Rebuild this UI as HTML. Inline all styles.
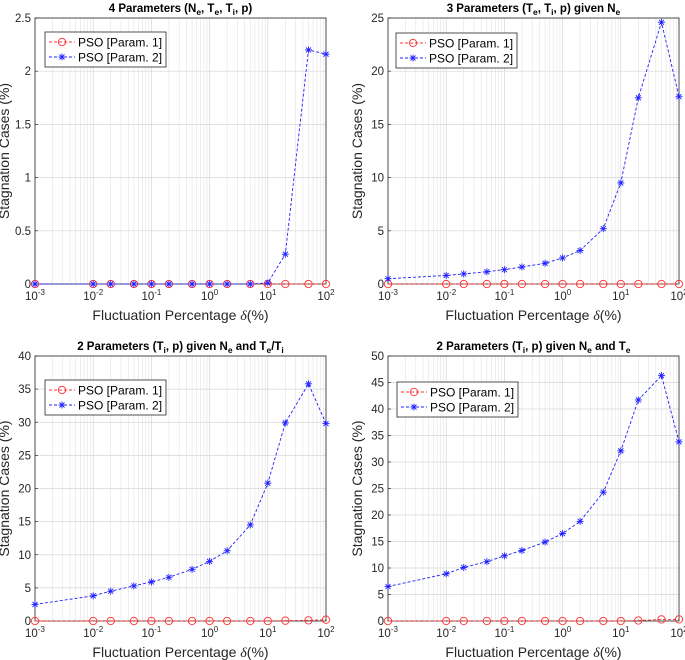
<!DOCTYPE html>
<html><head><meta charset="utf-8">
<style>
body{margin:0;background:#fff;}
svg{display:block;font-family:"Liberation Sans",sans-serif;}
</style></head>
<body>
<svg id="fig" width="685" height="660" viewBox="0 0 685 660" xmlns="http://www.w3.org/2000/svg"></svg>
<script>
const xValues = [0.001,0.01,0.02,0.05,0.1,0.2,0.5,1,2,5,10,20,50,100];
const xTickLabels = ["-3","-2","-1","0","1","2"];
const p1_a = [0,0,0,0,0,0,0,0,0,0,0,0,0,0];
const p2_a = [0,0,0,0,0,0,0,0,0,0,0.01,0.28,2.2,2.16];
const p1_b = [0,0,0,0,0,0,0,0,0,0,0,0,0,0];
const p2_b = [0.5,0.8,0.95,1.15,1.35,1.6,1.95,2.45,3.15,5.2,9.5,17.5,24.6,17.6];
const p1_c = [0,0,0,0,0,0,0,0,0,0,0,0.05,0.1,0.2];
const p2_c = [2.5,3.8,4.5,5.3,5.9,6.6,7.8,9.0,10.6,14.5,20.8,29.9,35.8,29.8];
const p1_d = [0,0,0,0,0,0,0,0,0,0,0,0.1,0.3,0.3];
const p2_d = [6.5,8.9,10.1,11.2,12.3,13.3,14.9,16.5,18.8,24.3,32.1,41.7,46.3,33.8];
const yTicks_a = ["0","0.5","1","1.5","2","2.5"];
const yTicks_b = ["0","5","10","15","20","25"];
const yTicks_c = ["0","5","10","15","20","25","30","35","40"];
const yTicks_d = ["0","5","10","15","20","25","30","35","40","45","50"];

const NS="http://www.w3.org/2000/svg";
const svg=document.getElementById('fig');
function mk(tag,attrs,parent,txt){const e=document.createElementNS(NS,tag);for(const k in attrs)e.setAttribute(k,attrs[k]);if(txt!==undefined)e.textContent=txt;(parent||svg).appendChild(e);return e;}

const panels=[
 {id:'a',L:35,R:326,T:18,B:284,ymax:2.5,yt:yTicks_a,p1:p1_a,p2:p2_a,title:[["4 Parameters (N"],["e","sub"],[", T"],["e","sub"],[", T"],["i","sub"],[", p)"]],leg:[45,32]},
 {id:'b',L:388,R:679,T:18,B:284,ymax:25,yt:yTicks_b,p1:p1_b,p2:p2_b,title:[["3 Parameters (T"],["e","sub"],[", T"],["i","sub"],[", p) given N"],["e","sub"]],leg:[396,33]},
 {id:'c',L:35,R:326,T:356,B:621,ymax:40,yt:yTicks_c,p1:p1_c,p2:p2_c,title:[["2 Parameters (T"],["i","sub"],[", p) given N"],["e","sub"],[" and T"],["e","sub"],["/T"],["i","sub"]],leg:[45,380]},
 {id:'d',L:388,R:679,T:356,B:621,ymax:50,yt:yTicks_d,p1:p1_d,p2:p2_d,title:[["2 Parameters (T"],["i","sub"],[", p) given N"],["e","sub"],[" and T"],["e","sub"]],leg:[397,382]}
];

panels.forEach(p=>{
 const g=mk('g',{});
 
 
 const xs=v=>p.L+(Math.log10(v)+3)/5*(p.R-p.L);
 const ys=v=>p.B-v/p.ymax*(p.B-p.T);
 mk('rect',{x:p.L,y:p.T,width:p.R-p.L,height:p.B-p.T,fill:'#fff'},g);
 for(let d=-3;d<2;d++)for(let m=2;m<=9;m++){const x=xs(m*Math.pow(10,d));mk('line',{x1:x,x2:x,y1:p.T,y2:p.B,stroke:'#e3e3e3','stroke-width':0.6},g);}
 for(let d=-3;d<=2;d++){const x=xs(Math.pow(10,d));mk('line',{x1:x,x2:x,y1:p.T,y2:p.B,stroke:'#d6d6d6','stroke-width':0.7},g);}
 const n=p.yt.length-1;
 p.yt.forEach((t,i)=>{const y=p.B-i/n*(p.B-p.T);mk('line',{x1:p.L,x2:p.R,y1:y,y2:y,stroke:'#d6d6d6','stroke-width':0.7},g);
   const tl=mk('text',{x:p.L-4,y:y+4,'font-size':11.5,fill:'#262626','text-anchor':'end'},g,t);
   
   
   mk('line',{x1:p.L,x2:p.L+3,y1:y,y2:y,stroke:'#262626','stroke-width':0.7},g);});
 xTickLabels.forEach((t,i)=>{const x=xs(Math.pow(10,+t));
   const tl=mk('text',{x:x,y:p.B+16,'font-size':11.5,fill:'#262626','text-anchor':'middle'},g);
   
   
   mk('tspan',{},tl,'10');mk('tspan',{dy:-5,'font-size':8},tl,t);});
 mk('rect',{x:p.L,y:p.T,width:p.R-p.L,height:p.B-p.T,fill:'none',stroke:'#262626','stroke-width':0.8},g);
 const tt=mk('text',{x:(p.L+p.R)/2,y:p.T-6,'font-size':11.5,'font-weight':'bold',fill:'#000','text-anchor':'middle'},g);
 
 
 let sub=false;
 p.title.forEach(([s,k])=>{if(k){mk('tspan',{dy:3,'font-size':8.5},tt,s);sub=true;}else{mk('tspan',sub?{dy:-3}:{},tt,s);sub=false;}});
 const yl=mk('text',{x:0,y:0,'font-size':14,fill:'#262626','text-anchor':'middle',transform:`translate(${p.L-26},${(p.T+p.B)/2}) rotate(-90)`},g,'Stagnation Cases (%)');
 
 
 const xl=mk('text',{x:(p.L+p.R)/2,y:p.B+36,'font-size':14,fill:'#262626','text-anchor':'middle'},g);
 
 
 mk('tspan',{},xl,'Fluctuation Percentage ');mk('tspan',{'font-style':'italic','font-family':'Liberation Serif, serif'},xl,'δ');mk('tspan',{},xl,'(%)');
 const star=(x,y,c)=>{const s=mk('g',{stroke:c,'stroke-width':0.9},g);
   
   
   [[-3.5,0,3.5,0],[0,-3.5,0,3.5],[-2.5,-2.5,2.5,2.5],[-2.5,2.5,2.5,-2.5]].forEach(a=>mk('line',{x1:x+a[0],y1:y+a[1],x2:x+a[2],y2:y+a[3]},s));};
 const circ=(x,y)=>{const c=mk('circle',{cx:x,cy:y,r:3.7,fill:'none',stroke:'#ff3030','stroke-width':0.9},g);
   
   };
 const l1=mk('polyline',{points:xValues.map((v,i)=>xs(v)+','+ys(p.p1[i])).join(' '),fill:'none',stroke:'#ff3030','stroke-width':0.9,'stroke-dasharray':'3,2'},g);
 
 
 xValues.forEach((v,i)=>circ(xs(v),ys(p.p1[i])));
 const l2=mk('polyline',{points:xValues.map((v,i)=>xs(v)+','+ys(p.p2[i])).join(' '),fill:'none',stroke:'#2020ff','stroke-width':0.9,'stroke-dasharray':'3,2'},g);
 
 
 xValues.forEach((v,i)=>star(xs(v),ys(p.p2[i]),'#2020ff'));
 const [lx,ly]=p.leg;
 const lg=mk('g',{},g);
 
 
 mk('rect',{x:lx,y:ly,width:121,height:35,fill:'#fff',stroke:'#262626','stroke-width':0.8},lg);
 mk('line',{x1:lx+4,x2:lx+30,y1:ly+10,y2:ly+10,stroke:'#ff3030','stroke-dasharray':'3,2','stroke-width':0.9},lg);
 mk('circle',{cx:lx+17,cy:ly+10,r:3.7,fill:'none',stroke:'#ff3030','stroke-width':0.9},lg);
 const t1=mk('text',{x:lx+33,y:ly+14.5,'font-size':12,fill:'#000'},lg,'PSO [Param. 1]');
 
 
 mk('line',{x1:lx+4,x2:lx+30,y1:ly+25,y2:ly+25,stroke:'#2020ff','stroke-dasharray':'3,2','stroke-width':0.9},lg);
 const s=mk('g',{stroke:'#2020ff','stroke-width':0.9},lg);
 [[-3.5,0,3.5,0],[0,-3.5,0,3.5],[-2.5,-2.5,2.5,2.5],[-2.5,2.5,2.5,-2.5]].forEach(a=>mk('line',{x1:lx+17+a[0],y1:ly+25+a[1],x2:lx+17+a[2],y2:ly+25+a[3]},s));
 const t2=mk('text',{x:lx+33,y:ly+29.5,'font-size':12,fill:'#000'},lg,'PSO [Param. 2]');
 
 
});
</script>
</body></html>
